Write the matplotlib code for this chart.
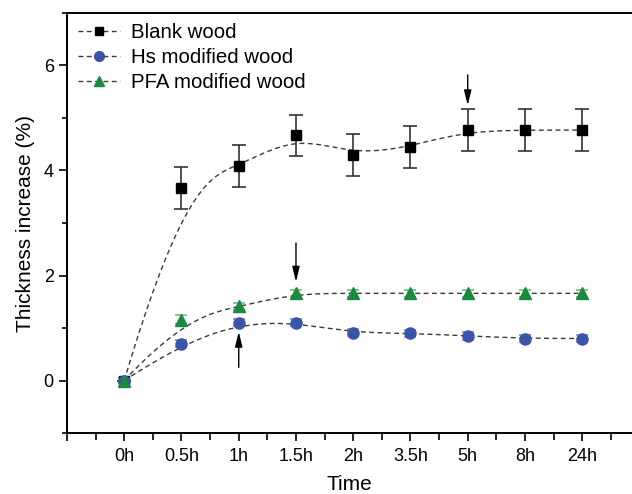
import numpy as np
import matplotlib
matplotlib.use("Agg")
import matplotlib.pyplot as plt
from matplotlib.lines import Line2D

plt.rcParams['font.family'] = ['Liberation Sans', 'DejaVu Sans']

time_labels = ['0h', '0.5h', '1h', '1.5h', '2h', '3.5h', '5h', '8h', '24h']
blank = [0.0, 3.67, 4.08, 4.67, 4.30, 4.45, 4.77, 4.77, 4.77]
blank_err = [0.0, 0.40, 0.40, 0.39, 0.40, 0.40, 0.40, 0.40, 0.40]
hs = [0.0, 0.70, 1.10, 1.10, 0.91, 0.90, 0.85, 0.80, 0.80]
hs_err = [0.04, 0.07, 0.07, 0.07, 0.07, 0.07, 0.07, 0.06, 0.06]
pfa = [0.0, 1.16, 1.41, 1.66, 1.66, 1.66, 1.66, 1.66, 1.66]
pfa_err = [0.04, 0.08, 0.07, 0.06, 0.06, 0.06, 0.06, 0.06, 0.06]

# arrows: (x index, tail y, tip y)
arrows = [(6, 5.82, 5.24), (3, 2.62, 1.88), (2, 0.25, 0.93)]

blue = '#3a54a8'
green = '#1b8a3f'
line_c = '#3a3a3a'


def bspline(px, py, npts=400):
    # clamped uniform cubic B-spline, data points used as control points
    px = np.asarray(px, float)
    py = np.asarray(py, float)
    n = len(px)
    k = 3
    inner = np.arange(1, n - k)
    t = np.concatenate([np.zeros(k + 1), inner, np.full(k + 1, n - k)])
    u = np.linspace(0, n - k, npts)
    u[-1] -= 1e-9
    N = np.zeros((npts, len(t) - 1))
    for i in range(len(t) - 1):
        N[:, i] = (u >= t[i]) & (u < t[i + 1])
    for d in range(1, k + 1):
        Nn = np.zeros((npts, len(t) - 1 - d))
        for i in range(len(t) - 1 - d):
            a = 0.0
            b = 0.0
            if t[i + d] != t[i]:
                a = (u - t[i]) / (t[i + d] - t[i]) * N[:, i]
            if t[i + d + 1] != t[i + 1]:
                b = (t[i + d + 1] - u) / (t[i + d + 1] - t[i + 1]) * N[:, i + 1]
            Nn[:, i] = a + b
        N = Nn
    return N @ px, N @ py


x = np.arange(len(time_labels))

fig = plt.figure(figsize=(6.32, 4.94), dpi=100)
ax = fig.add_axes([67 / 632, 61 / 494, 1 - 67 / 632, 420 / 494])

series = [
    (blank, blank_err, 's', 'black', '#333333', 'Blank wood', 7.5),
    (hs, hs_err, 'o', blue, '#7f8fd0', 'Hs modified wood', 8),
    (pfa, pfa_err, '^', green, '#6fbf8a', 'PFA modified wood', 8.5),
]

handles = []
for yv, ye, mk, col, ecol, lab, ms in series:
    sx, sy = bspline(x, yv)
    ax.plot(sx, sy, ls=(0, (3.5, 2.5)), color=line_c, lw=1.0, zorder=2)
    ax.errorbar(x, yv, yerr=ye, fmt=mk, ms=ms, mfc=col, mec=col,
                ecolor=ecol, elinewidth=1.2,
                capsize=5 if mk == 's' else 4, capthick=1.2, zorder=3)
    handles.append(Line2D([], [], ls=(0, (3.5, 2.5)), color=line_c, lw=1.0,
                          marker=mk, ms=7 if mk != 's' else 6, mfc=col, mec=col))

for xi, y0, y1 in arrows:
    ax.annotate('', xy=(xi, y1), xytext=(xi, y0),
                arrowprops=dict(arrowstyle='-|>,head_width=0.22,head_length=0.9',
                                color='black', lw=1.0, shrinkA=0, shrinkB=0))

ax.set_xlim(-1, 8.87)
ax.set_ylim(-1, 7)
ax.set_xticks(list(x) + [-1])
ax.set_xticklabels([*time_labels, ''])
ax.set_xticks(np.arange(-1, 9, 1) + 0.5, minor=True)
ax.set_yticks([0, 2, 4, 6])
ax.set_yticks([-1, 1, 3, 5, 7], minor=True)
ax.tick_params(axis='both', which='major', direction='out', length=6, width=1.2,
               labelsize=13)
ax.tick_params(axis='y', which='minor', direction='out', length=3.5, width=1.2)
ax.tick_params(axis='x', which='minor', direction='out', length=5, width=1.2)
ax.tick_params(axis='x', pad=5)
for s in ['left', 'bottom', 'top']:
    ax.spines[s].set_linewidth(1.4)
ax.spines['right'].set_visible(False)

ax.set_xlabel('Time', fontsize=15, labelpad=7)
ax.set_ylabel('Thickness increase (%)', fontsize=15, labelpad=6)

ax.legend(handles, [s[5] for s in series], loc='upper left', frameon=False,
          bbox_to_anchor=(0.02, 0.975), fontsize=14.7, handlelength=2.05,
          handletextpad=0.55, labelspacing=0.28, borderaxespad=0.0, borderpad=0.0)

fig.savefig('out.png', dpi=100)
